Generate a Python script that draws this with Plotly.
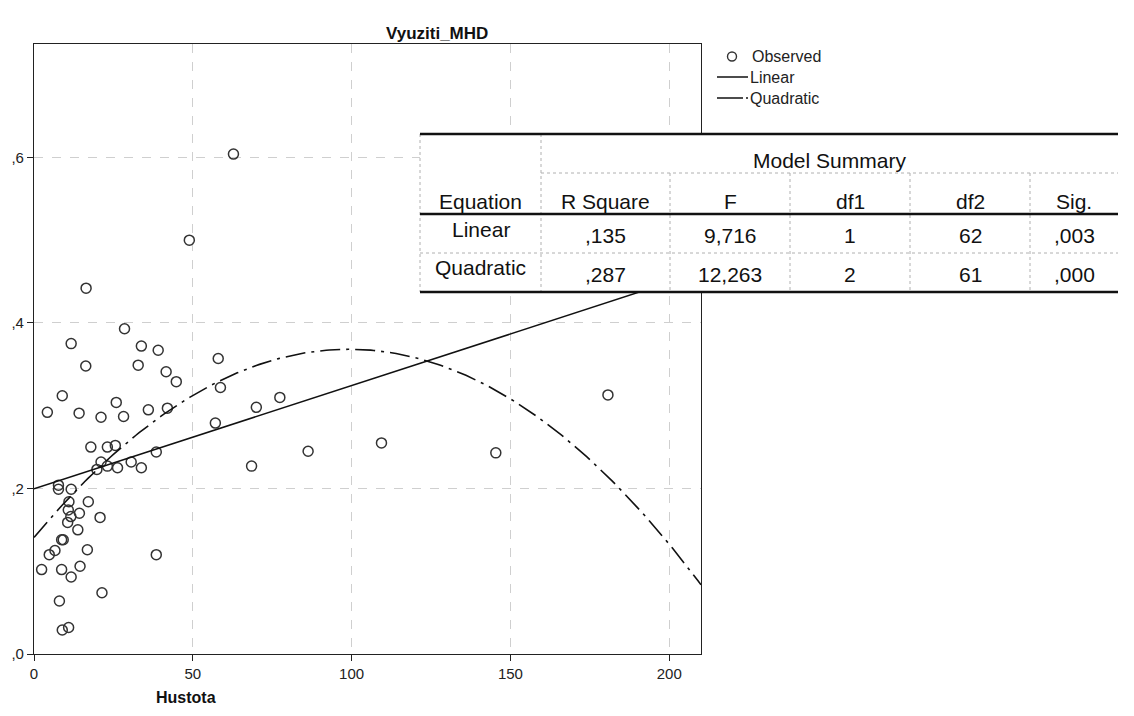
import numpy as np
import plotly.graph_objects as go

# ---------------- data ----------------
hustota = [62.8, 48.9, 16.4, 28.5, 11.7, 33.8, 39.1, 16.3, 32.8, 41.6,
           44.8, 58.0, 58.7, 8.9, 4.2, 14.2, 36.0, 42.0, 25.9, 28.2,
           21.1, 70.0, 77.4, 57.1, 180.7, 109.4, 68.5, 86.3, 145.4, 38.5,
           33.8, 38.5, 17.9, 23.1, 25.6, 21.1, 19.8, 23.1, 26.3, 30.6,
           7.7, 7.7, 11.7, 11.0, 17.1, 10.8, 14.3, 11.6, 20.8, 10.6,
           13.8, 9.2, 8.7, 6.6, 4.8, 16.8, 2.4, 8.7, 14.5, 11.7,
           21.4, 8.0, 8.9, 10.9]
vyuziti = [0.604, 0.500, 0.442, 0.393, 0.375, 0.372, 0.367, 0.348, 0.349, 0.341,
           0.329, 0.357, 0.322, 0.312, 0.292, 0.291, 0.295, 0.297, 0.304, 0.287,
           0.286, 0.298, 0.310, 0.279, 0.313, 0.255, 0.227, 0.245, 0.243, 0.244,
           0.225, 0.120, 0.250, 0.250, 0.252, 0.232, 0.223, 0.227, 0.225, 0.232,
           0.204, 0.199, 0.199, 0.184, 0.184, 0.174, 0.170, 0.166, 0.165, 0.159,
           0.150, 0.138, 0.138, 0.125, 0.120, 0.126, 0.102, 0.102, 0.106, 0.093,
           0.074, 0.064, 0.029, 0.032]

x_ticks = [0, 50, 100, 150, 200]
y_ticks = [0.0, 0.2, 0.4, 0.6]
y_ticktext = [",0", ",2", ",4", ",6"]

legend_labels = ["Observed", "Linear", "Quadratic"]

table_title = "Model Summary"
table_header = ["Equation", "R Square", "F", "df1", "df2", "Sig."]
table_equations = ["Linear", "Quadratic"]
table_rsq = [",135", ",287"]
table_f = ["9,716", "12,263"]
table_df1 = ["1", "2"]
table_df2 = ["62", "61"]
table_sig = [",003", ",000"]

chart_title = "Vyuziti_MHD"
x_title = "Hustota"

# ---------------- curve estimation fits ----------------
xa = np.array(hustota)
ya = np.array(vyuziti)
lin = np.polyfit(xa, ya, 1)
quad = np.polyfit(xa, ya, 2)
xs = np.linspace(0, 210, 211)

# ---------------- geometry helpers (pixel -> paper) ----------------
W, H = 1134, 716
L, R, T, B = 34, 701, 44, 654


def px(x):
    return (x - L) / (R - L)


def py(y):
    return (B - y) / (B - T)


FONT = "Liberation Sans, Arial, sans-serif"

fig = go.Figure()
fig.add_trace(go.Scatter(x=hustota, y=vyuziti, mode="markers",
                         marker=dict(symbol="circle-open", size=10,
                                     color="#333333", line=dict(width=1.5)),
                         name=legend_labels[0], showlegend=False))
fig.add_trace(go.Scatter(x=xs, y=np.polyval(lin, xs), mode="lines",
                         line=dict(color="#111111", width=1.6),
                         name=legend_labels[1], showlegend=False))
fig.add_trace(go.Scatter(x=xs, y=np.polyval(quad, xs), mode="lines",
                         line=dict(color="#111111", width=1.6,
                                   dash="20px,6px,3px,6px"),
                         name=legend_labels[2], showlegend=False))

grid = dict(showgrid=True, gridcolor="#cfcfcf", griddash="dash", gridwidth=1)
fig.update_xaxes(range=[0, 210], tickvals=x_ticks, ticks="outside", ticklen=6,
                 tickcolor="#222", showline=True, linecolor="#222", linewidth=1.2,
                 mirror=True, zeroline=False,
                 tickfont=dict(family=FONT, size=15, color="#222"), **grid)
fig.update_yaxes(range=[0, 0.737], tickvals=y_ticks, ticktext=y_ticktext,
                 ticks="outside", ticklen=6, tickcolor="#222", showline=True,
                 linecolor="#222", linewidth=1.2, mirror=True, zeroline=False,
                 tickfont=dict(family=FONT, size=15, color="#222"), **grid)

shapes = []
ann = []


def text(xp, yp, s, font, xanchor="center"):
    ann.append(dict(x=px(xp), y=py(yp), xref="paper", yref="paper", text=s,
                    showarrow=False, font=font, xanchor=xanchor, yanchor="middle"))


# title and axis title
text(437, 33, "<b>%s</b>" % chart_title, dict(family=FONT, size=17, color="#111"))
text(186, 697, "<b>%s</b>" % x_title, dict(family=FONT, size=16, color="#111"))

# legend (drawn manually)
leg_y = [56.5, 77, 98]
shapes.append(dict(type="circle", xref="paper", yref="paper",
                   x0=px(727.5), x1=px(736.5), y0=py(52), y1=py(61),
                   line=dict(color="#333", width=1.4)))
shapes.append(dict(type="line", xref="paper", yref="paper",
                   x0=px(717), x1=px(748), y0=py(leg_y[1]), y1=py(leg_y[1]),
                   line=dict(color="#111", width=1.5)))
shapes.append(dict(type="line", xref="paper", yref="paper",
                   x0=px(717), x1=px(743), y0=py(leg_y[2]), y1=py(leg_y[2]),
                   line=dict(color="#111", width=1.5)))
shapes.append(dict(type="line", xref="paper", yref="paper",
                   x0=px(746), x1=px(748), y0=py(leg_y[2]), y1=py(leg_y[2]),
                   line=dict(color="#111", width=1.5)))
leg_x = [750, 748, 748]
for lab, xx, yy in zip(legend_labels, leg_x, leg_y):
    text(xx, yy, lab, dict(family=FONT, size=16, color="#222"), xanchor="left")

# table
TL, TR = 420, 1118
cols = [420, 541, 670, 790, 910, 1030, 1118]
rows = [134, 173, 214, 253, 292]
shapes.append(dict(type="rect", xref="paper", yref="paper", layer="above",
                   x0=px(TL), x1=px(TR), y0=py(rows[0]), y1=py(rows[-1]),
                   fillcolor="white", line=dict(width=0)))
dash_c = "#b0b0b0"


def hline(y, x0, x1, color=dash_c, width=1, dash="dot"):
    shapes.append(dict(type="line", xref="paper", yref="paper", layer="above",
                       x0=px(x0), x1=px(x1), y0=py(y), y1=py(y),
                       line=dict(color=color, width=width, dash=dash)))


def vline(x, y0, y1):
    shapes.append(dict(type="line", xref="paper", yref="paper", layer="above",
                       x0=px(x), x1=px(x), y0=py(y0), y1=py(y1),
                       line=dict(color=dash_c, width=1, dash="dot")))


hline(rows[1], cols[1], TR)
hline(rows[3], TL, TR)
vline(cols[0], rows[0], rows[-1])
vline(cols[1], rows[0], rows[-1])
for c in cols[2:-1]:
    vline(c, rows[1], rows[-1])
for r_ in [rows[0], rows[2], rows[4]]:
    hline(r_, TL, TR, color="#111", width=2.6, dash="solid")

tf = dict(family=FONT, size=21, color="#111")
text((cols[1] + TR) / 2, 161, table_title, tf)
centers = [(cols[i] + cols[i + 1]) / 2 for i in range(6)]
for cx, h in zip(centers, table_header):
    text(cx, 201, h, tf)
label_y = [229, 267]
value_y = [236, 274]
for i in range(2):
    vals = [table_rsq[i], table_f[i], table_df1[i], table_df2[i], table_sig[i]]
    text(centers[0], label_y[i], table_equations[i], tf)
    for cx, v in zip(centers[1:], vals):
        text(cx, value_y[i], v, tf)

fig.update_layout(width=W, height=H, margin=dict(l=L, r=W - R, t=T, b=H - B),
                  paper_bgcolor="white", plot_bgcolor="white",
                  shapes=shapes, annotations=ann, showlegend=False)
fig.write_html("out.html")
